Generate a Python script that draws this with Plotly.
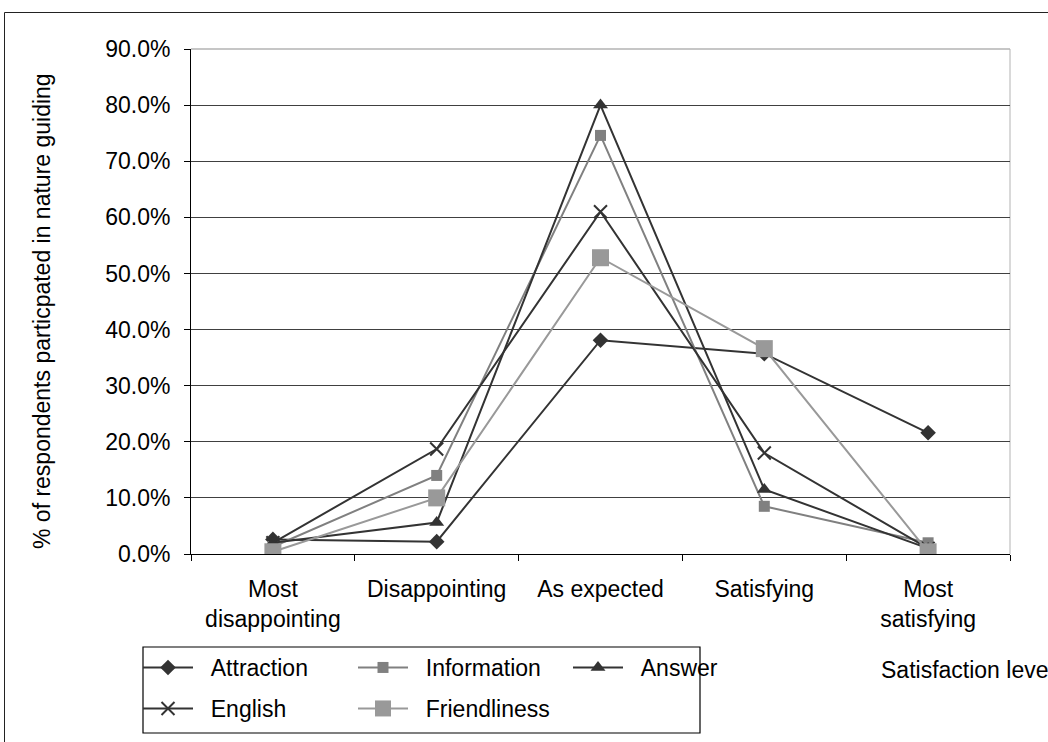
import plotly.graph_objects as go

# Satisfaction levels (x categories)
levels = ["Most<br>disappointing", "Disappointing", "As expected", "Satisfying", "Most<br>satisfying"]

# Share of respondents per level, one list per guiding aspect
attraction = [0.026, 0.022, 0.381, 0.357, 0.216]
information = [0.013, 0.140, 0.746, 0.085, 0.020]
answer = [0.020, 0.056, 0.800, 0.115, 0.010]
english = [0.020, 0.187, 0.610, 0.180, 0.010]
friendliness = [0.004, 0.100, 0.528, 0.366, 0.004]

y_ticks = [0.0, 0.1, 0.2, 0.3, 0.4, 0.5, 0.6, 0.7, 0.8, 0.9]

FONT = "Liberation Sans, Arial, sans-serif"
FS = 23
W, H = 1048, 742
L, R, T, B = 191, 38, 49, 188
PW, PH = W - L - R, H - T - B


def px_x(px):
    return (px - L) / PW


def px_y(py):
    return (H - B - py) / PH


series = [
    ("Attraction", attraction, "diamond", 12, "#333333", "legend"),
    ("Information", information, "square", 11, "#808080", "legend"),
    ("Answer", answer, "triangle-up", 13, "#333333", "legend"),
    ("English", english, "x-thin", 13, "#333333", "legend2"),
    ("Friendliness", friendliness, "square", 17, "#999999", "legend2"),
]

PAD = "\u00a0\u00a0"

fig = go.Figure()
for name, vals, sym, size, col, leg in series:
    fig.add_trace(go.Scatter(
        x=levels, y=vals, name=PAD + name, mode="lines+markers",
        line=dict(color=col, width=2),
        marker=dict(symbol=sym, size=size, color=col,
                    line=dict(color=col, width=2 if sym == "x-thin" else 0)),
        legend=leg,
    ))

legend_common = dict(
    orientation="h", xanchor="left", yanchor="top",
    font=dict(family=FONT, size=FS, color="#000000"),
    bgcolor="rgba(0,0,0,0)", borderwidth=0,
    entrywidth=150, entrywidthmode="pixels", itemwidth=50,
    tracegroupgap=0,
)

fig.update_layout(
    width=W, height=H,
    margin=dict(l=L, r=R, t=T, b=B, autoexpand=False),
    paper_bgcolor="white", plot_bgcolor="white",
    font=dict(family=FONT, size=FS, color="#000000"),
    showlegend=True,
    legend=dict(x=px_x(138), y=px_y(646), **legend_common),
    legend2=dict(x=px_x(138), y=px_y(687), **legend_common),
    xaxis=dict(
        type="category", range=[-0.5, len(levels) - 0.5],
        tickson="boundaries", ticks="outside",
        ticklen=6, tickcolor="#000000", tickwidth=1,
        ticklabelstandoff=14,
        showline=True, linecolor="#000000", linewidth=1,
        showgrid=False, zeroline=False,
        tickfont=dict(family=FONT, size=FS, color="#000000"),
    ),
    yaxis=dict(
        range=[0, 0.9], tickvals=y_ticks, tickformat=".1%",
        ticks="outside", ticklen=6, tickcolor="#000000", tickwidth=1,
        ticklabelstandoff=9,
        showline=True, linecolor="#000000", linewidth=1,
        showgrid=True, gridcolor="#404040", gridwidth=1,
        zeroline=False,
        tickfont=dict(family=FONT, size=FS, color="#000000"),
    ),
)

# y-axis title
fig.add_annotation(text="% of respondents particpated in nature guiding",
                   xref="paper", yref="paper", x=px_x(42), y=px_y(311),
                   xanchor="center", yanchor="middle", textangle=-90,
                   showarrow=False, font=dict(family=FONT, size=FS, color="#000000"))

# plot-area border on top and right
fig.add_shape(type="line", xref="paper", yref="paper", x0=0, x1=1, y0=1, y1=1,
              line=dict(color="#b3b3b3", width=1.5), layer="above")
fig.add_shape(type="line", xref="paper", yref="paper", x0=1, x1=1, y0=0, y1=1,
              line=dict(color="#b3b3b3", width=1), layer="below")

# frame around the two legend rows
fig.add_shape(type="rect", xref="paper", yref="paper",
              x0=px_x(143), x1=px_x(700), y0=px_y(733), y1=px_y(647),
              line=dict(color="#000000", width=1.2), fillcolor="rgba(0,0,0,0)")

# outer chart frame
fig.add_shape(type="rect", xref="paper", yref="paper",
              x0=px_x(4.5), x1=px_x(1070), y0=px_y(770), y1=px_y(12.5),
              line=dict(color="#222222", width=1), fillcolor="rgba(0,0,0,0)")

fig.add_annotation(text="Satisfaction level", xref="paper", yref="paper",
                   x=px_x(879), y=px_y(670), xanchor="left", yanchor="middle",
                   showarrow=False, font=dict(family=FONT, size=FS, color="#000000"))

fig.write_html("out.html")
